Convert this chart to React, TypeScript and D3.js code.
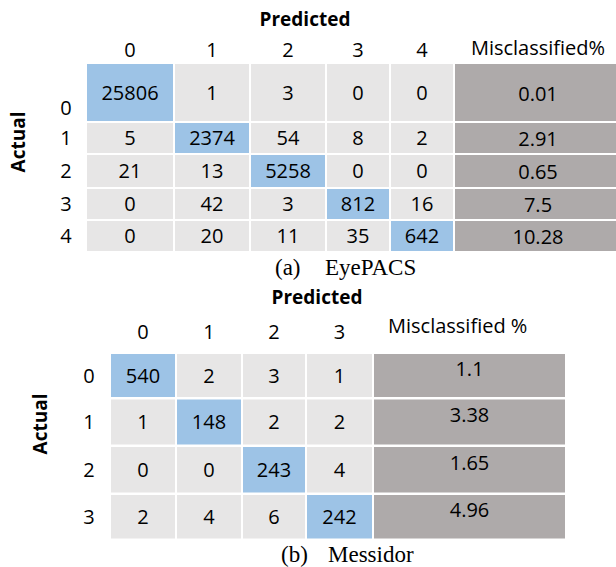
import React from 'react';
import * as d3 from 'd3';

// ---------- data ----------
const eyeClasses = ['0', '1', '2', '3', '4'];
const eyeMatrix = [
  [25806, 1, 3, 0, 0],
  [5, 2374, 54, 8, 2],
  [21, 13, 5258, 0, 0],
  [0, 42, 3, 812, 16],
  [0, 20, 11, 35, 642],
];
const eyeMis = ['0.01', '2.91', '0.65', '7.5', '10.28'];

const mesClasses = ['0', '1', '2', '3'];
const mesMatrix = [
  [540, 2, 3, 1],
  [1, 148, 2, 2],
  [0, 0, 243, 4],
  [2, 4, 6, 242],
];
const mesMis = ['1.1', '3.38', '1.65', '4.96'];

// ---------- layout ----------
const W = 616;
const H = 567;
const BLUE = '#9DC3E6';
const LGRAY = '#E7E6E6';
const DGRAY = '#AEAAAA';
const SANS = '"Open Sans", "Noto Sans", sans-serif';
const SERIF = '"Liberation Serif", "Times New Roman", serif';

function edges(start: number, sizes: number[], gap: number) {
  const out: { a: number; b: number }[] = [];
  let p = start;
  sizes.forEach((s) => {
    out.push({ a: p, b: p + s });
    p += s + gap;
  });
  return out;
}

type TableCfg = {
  classes: string[];
  matrix: number[][];
  mis: string[];
  misHeader: string;
  colStart: number;
  colSizes: number[];
  colGap: number;
  rowStart: number;
  rowSizes: number[];
  rowGap: number;
  predX: number;
  predY: number;
  headY: number;
  misHeadX: number;
  misHeadAnchor: 'start' | 'middle';
  misHeadY: number;
  rowLabelX: number;
  row0Offset: number;
  actualX: number;
  actualY: number;
  misOffset: number;
  capLetter: string;
  capName: string;
  capX1: number;
  capX2: number;
  capY: number;
};

function Table({ c }: { c: TableCfg }) {
  const keys = [...c.classes, 'mis'];
  const colE = edges(c.colStart, c.colSizes, c.colGap);
  const rowE = edges(c.rowStart, c.rowSizes, c.rowGap);
  const x = d3.scaleOrdinal<string, { a: number; b: number }>().domain(keys).range(colE);
  const y = d3.scaleOrdinal<string, { a: number; b: number }>().domain(c.classes).range(rowE);
  const fs = 20;
  const base = fs * 0.355;
  return (
    <g>
      <text x={c.predX} y={c.predY} textAnchor="middle" fontFamily={SANS} fontWeight={700} fontSize={19}>
        Predicted
      </text>
      {c.classes.map((k) => {
        const e = x(k);
        return (
          <text key={'h' + k} x={(e.a + e.b) / 2} y={c.headY} textAnchor="middle" fontFamily={SANS} fontSize={fs}>
            {k}
          </text>
        );
      })}
      <text x={c.misHeadX} y={c.misHeadY} textAnchor={c.misHeadAnchor} fontFamily={SANS} fontSize={fs}>
        {c.misHeader}
      </text>
      <text
        transform={`translate(${c.actualX},${c.actualY}) rotate(-90)`}
        textAnchor="middle"
        fontFamily={SANS}
        fontWeight={700}
        fontSize={19}
      >
        Actual
      </text>
      {c.classes.map((r, i) => {
        const re = y(r);
        const cy = (re.a + re.b) / 2;
        return (
          <g key={'r' + r}>
            <text
              x={c.rowLabelX}
              y={cy + base + (i === 0 ? c.row0Offset : 0)}
              textAnchor="middle"
              fontFamily={SANS}
              fontSize={fs}
            >
              {r}
            </text>
            {c.classes.map((col, j) => {
              const ce = x(col);
              return (
                <g key={'c' + col}>
                  <rect x={ce.a} y={re.a} width={ce.b - ce.a} height={re.b - re.a} fill={i === j ? BLUE : LGRAY} />
                  <text x={(ce.a + ce.b) / 2} y={cy + base} textAnchor="middle" fontFamily={SANS} fontSize={fs}>
                    {c.matrix[i][j]}
                  </text>
                </g>
              );
            })}
            <rect x={x('mis').a} y={re.a} width={x('mis').b - x('mis').a} height={re.b - re.a} fill={DGRAY} />
            <text
              x={(x('mis').a + x('mis').b) / 2}
              y={cy + base + c.misOffset}
              textAnchor="middle"
              fontFamily={SANS}
              fontSize={fs}
            >
              {c.mis[i]}
            </text>
          </g>
        );
      })}
      <text x={c.capX1} y={c.capY} fontFamily={SERIF} fontSize={23}>
        {c.capLetter}
      </text>
      <text x={c.capX2} y={c.capY} fontFamily={SERIF} fontSize={23}>
        {c.capName}
      </text>
    </g>
  );
}

const topCfg: TableCfg = {
  classes: eyeClasses,
  matrix: eyeMatrix,
  mis: eyeMis,
  misHeader: 'Misclassified%',
  colStart: 87,
  colSizes: [86, 74, 74, 62, 62, 166],
  colGap: 2,
  rowStart: 64,
  rowSizes: [57, 30, 32, 30, 30],
  rowGap: 2,
  predX: 305,
  predY: 26,
  headY: 57,
  misHeadX: 538,
  misHeadAnchor: 'middle',
  misHeadY: 55,
  rowLabelX: 66,
  row0Offset: 15,
  actualX: 25,
  actualY: 142,
  misOffset: 1,
  capLetter: '(a)',
  capName: 'EyePACS',
  capX1: 275,
  capX2: 325,
  capY: 275,
};

const botCfg: TableCfg = {
  classes: mesClasses,
  matrix: mesMatrix,
  mis: mesMis,
  misHeader: 'Misclassified %',
  colStart: 111,
  colSizes: [64, 64, 62, 65, 191],
  colGap: 2,
  rowStart: 354,
  rowSizes: [43, 45, 45.5, 43.5],
  rowGap: 2.5,
  predX: 317,
  predY: 304,
  headY: 339,
  misHeadX: 388,
  misHeadAnchor: 'start',
  misHeadY: 333,
  rowLabelX: 89,
  row0Offset: 0,
  actualX: 47,
  actualY: 424,
  misOffset: -7,
  capLetter: '(b)',
  capName: 'Messidor',
  capX1: 281,
  capX2: 328,
  capY: 562,
};

export default function App() {
  return (
    <svg
      width={W}
      height={H}
      viewBox={`0 0 ${W} ${H}`}
      style={{ position: 'absolute', left: 0, top: 0, background: '#fff' }}
    >
      <rect x={0} y={0} width={W} height={H} fill="#fff" />
      <Table c={topCfg} />
      <Table c={botCfg} />
    </svg>
  );
}
